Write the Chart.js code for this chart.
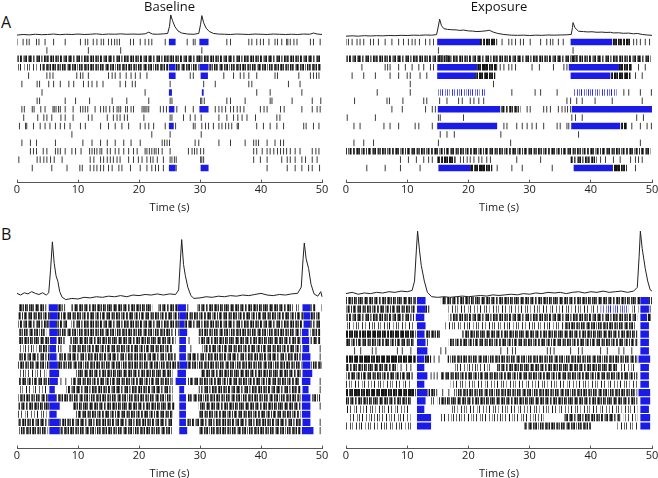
<!DOCTYPE html>
<html lang="en">
<head>
<meta charset="UTF-8">
<title>Baseline / Exposure raster</title>
<script src="https://cdn.jsdelivr.net/npm/chart.js"></script>
<style>
  html, body { margin: 0; padding: 0; overflow: hidden; background: #fff; }
  body { width: 658px; height: 478px; position: relative; font-family: "Open Sans", sans-serif; }
  .panel { position: absolute; }
  .tag { position: absolute; font-size: 16px; line-height: 16px; color: #111; }
</style>
</head>
<body>
<div class="tag" style="left:1px;top:14px">A</div>
<div class="tag" style="left:1px;top:226px">B</div>
<canvas class="panel" id="aBase" width="333" height="216" style="left:3px;top:0px"></canvas>
<canvas class="panel" id="aExp" width="334" height="216" style="left:332px;top:0px"></canvas>
<canvas class="panel" id="bBase" width="333" height="260" style="left:3px;top:222px"></canvas>
<canvas class="panel" id="bExp" width="334" height="260" style="left:332px;top:222px"></canvas>
<script>
// ---------- population traces: [time s, normalised activity] ----------
const traceABase = [[0,0.02],[1,0.05],[2,0.03],[3,0.06],[4,0.04],[5,0.05],[6,0.07],[7,0.04],[8,0.06],[9,0.05],
  [10,0.07],[11,0.05],[12,0.06],[13,0.08],[14,0.05],[15,0.07],[16,0.06],[17,0.08],[18,0.06],[19,0.07],[20,0.06],
  [21,0.08],[21.6,0.16],[22.2,0.07],[23,0.06],[24,0.08],[24.7,0.1],[25.0,0.45],[25.2,1.0],[25.5,0.72],[25.9,0.42],
  [26.4,0.22],[27,0.12],[28,0.07],[29,0.06],[29.8,0.1],[30.1,0.55],[30.3,0.97],[30.6,0.62],[31.0,0.36],[31.5,0.2],
  [32.2,0.1],[33,0.07],[34,0.06],[35,0.05],[36,0.07],[37,0.06],[38,0.05],[39,0.07],[40,0.06],[41,0.05],[42,0.07],
  [43,0.06],[44,0.05],[45,0.06],[46,0.05],[47,0.07],[48,0.06],[48.6,0.12],[49.2,0.07],[50,0.05]];
const traceAExp = [[0,0.0],[1,0.02],[2,0.0],[3,0.03],[4,0.01],[5,0.03],[6,0.02],[7,0.04],[8,0.03],[9,0.05],[10,0.04],
  [11,0.06],[12,0.05],[13,0.07],[14,0.06],[14.8,0.09],[15.1,0.6],[15.3,1.0],[15.6,0.62],[16.0,0.44],[16.6,0.4],
  [17.2,0.38],[18,0.37],[18.6,0.34],[19.2,0.36],[20,0.31],[20.7,0.3],[21.4,0.27],[22.2,0.29],[23.0,0.32],[23.4,0.35],
  [24,0.25],[24.8,0.16],[25.8,0.1],[27,0.06],[28,0.05],[29,0.06],[30,0.04],[31,0.06],[32,0.05],[33,0.07],[34,0.06],
  [35,0.07],[36,0.08],[36.8,0.1],[37.0,0.5],[37.1,0.8],[37.4,0.5],[38.0,0.29],[38.8,0.27],[39.5,0.25],[40.2,0.26],
  [41,0.23],[41.8,0.24],[42.5,0.22],[43.2,0.23],[43.7,0.19],[44.5,0.2],[45.3,0.17],[46.2,0.18],[47,0.14],[47.6,0.16],
  [48.4,0.1],[49.2,0.07],[50,0.05]];
const traceBBase = [[0,0.09],[0.6,0.06],[1.2,0.1],[1.8,0.08],[2.4,0.12],[3,0.09],[3.6,0.07],[4.2,0.1],[4.8,0.06],
  [5.2,0.1],[5.5,0.5],[5.8,1.0],[6.1,0.62],[6.4,0.4],[6.7,0.3],[7.0,0.12],[7.4,0.02],[8,-0.02],[9,0.0],[10,-0.01],
  [11,0.02],[12,0.01],[13,0.03],[14,0.02],[15,0.04],[16,0.03],[17,0.05],[18,0.03],[19,0.06],[20,0.05],[21,0.07],
  [22,0.06],[23,0.08],[24,0.06],[25,0.08],[26,0.07],[26.5,0.15],[26.8,0.7],[27.0,1.04],[27.3,0.6],[27.6,0.4],
  [28.0,0.2],[28.5,0.05],[29,0.0],[30,0.01],[31,0.03],[32,0.02],[33,0.04],[34,0.03],[35,0.05],[36,0.04],[37,0.06],
  [38,0.05],[39,0.07],[40,0.09],[41,0.06],[42,0.05],[43,0.07],[44,0.06],[45,0.08],[46,0.09],[46.6,0.2],[46.9,0.7],
  [47.1,0.98],[47.4,0.7],[47.8,0.53],[48.2,0.25],[48.7,0.08],[49.3,0.04],[49.8,0.12],[50,0.03]];
const traceBExp = [[0,0.0],[1,0.02],[2,-0.01],[3,0.01],[4,0.0],[5,0.02],[6,0.01],[7,0.03],[8,0.02],[9,0.04],[10,0.03],
  [10.8,0.05],[11.2,0.2],[11.5,0.7],[11.7,1.0],[12.0,0.7],[12.3,0.45],[12.8,0.2],[13.3,0.02],[14,-0.05],[15,-0.06],
  [16,-0.05],[17,-0.06],[18,-0.05],[19,-0.04],[20,-0.05],[21,-0.04],[22,-0.03],[23,-0.04],[24,-0.02],[25,-0.03],
  [26,-0.02],[27,-0.01],[28,-0.02],[29,0.0],[30,-0.01],[31,0.01],[32,0.0],[33,0.02],[34,0.01],[35,0.02],[36,0.0],
  [37,0.02],[38,0.03],[39,0.01],[40,0.03],[41,0.02],[42,0.04],[43,0.02],[44,0.03],[45,0.04],[46,0.02],[47,0.04],
  [47.6,0.1],[47.9,0.6],[48.1,1.0],[48.4,0.72],[48.9,0.4],[49.3,0.2],[49.7,0.06],[50,0.04]];

// ---------- single spikes, one list per neuron (rows 1..16, top to bottom) ----------
const spikesABase = [
  [0.0,1.0,1.6,2.0,3.2,3.6,4.6,6.0,7.9,10.4,11.2,11.6,12.5,13.1,13.8,14.2,15.0,15.5,16.0,16.4,16.8,18.6,19.1,20.2,21.0,21.6,22.1,24.3,27.9,28.9,29.2,34.4,35.0,38.0,38.5,39.3,39.9,40.4,41.3,42.3,42.7,43.4,44.2,44.4,44.8,45.4,45.9,48.1,48.6,49.7],
  [4.9,11.7,17.0,30.3],
  [24.9,25.3,30.0,30.2],
  [],
  [1.9,4.9,5.4,5.9,9.8,10.4,10.8,11.7,15.0,15.6,16.1,16.9,17.9,18.7,19.4,20.2,21.3,28.4,28.9,33.9,35.5,36.6,37.2,38.0,39.3,42.3,42.7,46.2,48.1,48.6,49.1,49.5],
  [0.8,3.3,3.7,5.2,6.0,7.1,8.5,9.3,10.9,11.7,12.3,13.1,14.1,16.9,17.8,18.9,19.4,25.1,30.6,32.5,38.0,38.5,44.5,46.4],
  [4.1,21.0,39.3,41.5,46.7],
  [3.3,3.7,7.9,9.6,11.9,15.6,18.0,21.6,25.1,25.4,30.1,30.3,30.7,34.4,35.0,37.4,41.5,41.8,45.1,48.4,49.8],
  [0.8,1.2,2.5,2.8,3.9,4.6,5.9,6.1,6.4,6.8,7.1,7.9,9.2,10.4,10.8,11.2,11.6,12.8,13.7,14.2,14.6,15.2,15.8,16.4,16.7,17.0,17.8,18.1,18.7,19.1,20.5,20.8,21.0,21.3,21.6,23.5,24.0,24.5,26.2,27.6,28.9,32.5,33.1,33.6,34.2,35.0,35.5,36.1,36.6,37.2,39.9,40.5,41.0,43.2,43.8,46.7,48.4,49.2,49.7],
  [1.1,3.4,4.4,4.9,5.7,7.2,7.9,9.2,11.7,12.3,14.8,15.8,16.4,16.9,17.6,18.1,20.8,25.1,25.4,27.3,28.4,29.2,30.2,33.1,34.4,35.5,36.2,36.9,37.7,39.1,42.6,43.1],
  [0.4,1.4,1.6,2.7,3.8,4.6,5.4,6.3,7.1,7.8,8.7,10.4,11.2,13.7,15.0,16.1,17.2,18.3,20.2,21.0,21.6,22.4,24.3,26.0,28.9,29.2,30.3,30.9,31.4,32.2,33.1,33.6,34.2,34.7,35.2,36.1,36.3,39.3,40.4,41.5,42.6,43.7,47.0,47.4,48.6,49.5],
  [9.0,22.1,25.1,30.2],
  [0.8,2.2,3.2,6.3,10.8,12.3,13.7,14.8,16.1,17.5,18.7,20.2,23.8,24.2,24.6,25.0,29.2,29.8,33.1,35.0,37.4,38.8,39.2,39.6,41.0,42.3,43.2,43.7],
  [2.2,2.7,3.2,4.3,4.9,6.3,6.7,7.1,7.9,9.0,9.6,10.5,11.9,12.3,12.7,13.1,13.6,13.9,14.8,15.3,16.1,16.7,17.5,18.3,19.1,19.7,21.0,21.3,21.7,22.1,22.5,22.8,23.2,23.8,25.1,28.1,28.7,29.1,29.5,30.1,30.6,38.8,39.3,40.2,41.0,41.5,42.1,42.7,43.2,43.7,44.2,44.8,45.6,46.4,48.4,49.0,49.5],
  [0.3,3.3,3.8,4.4,4.9,5.5,6.1,7.4,12.0,12.6,13.7,14.2,14.8,15.3,15.8,16.4,16.9,18.3,19.1,19.9,20.5,21.3,21.9,22.3,23.0,24.0,25.1,25.4,25.8,26.1,30.1,30.3,30.6,38.8,39.9,41.0,43.4,44.3,44.8,45.6,46.7,47.3,48.4,49.2],
  [2.5,5.7,8.2,10.3,10.7,12.0,12.6,13.1,13.7,14.2,15.0,15.6,16.7,17.2,18.6,20.2,21.3,22.1,22.7,23.2,24.0,26.1,41.0,44.3,45.6,46.7,47.8,48.4,49.6]
];
const spikesAExp = [
  [0,0.4,1.0,1.8,2.3,2.9,4.0,4.5,5.3,6.4,7.5,8.6,9.4,10.2,10.8,11.3,12.0,13.0,13.7,14.3,25.5,26.6,27.1,27.7,28.5,29.0,30.1,31.8,32.8,33.4,33.8,34.7,35.5,47.0,47.5,48.1,48.9,49.6],
  [15.1,37.1],
  [15.2,15.6,36.9,37.3],
  [2.6,6.4,6.8,7.2,8.6,9.7,10.8,11.9,12.7,13.8,14.3,25.2,25.8,26.6,27.1,27.7,30.4,31.6,33.9,35.6,36.1,47.8,48.9],
  [1.0,2.9,4.8,7.2,8.6,10.0,10.5,12.1,13.2,47.3,48.4],
  [10.5,24.1],
  [5.1,10.5,27.1,30.9,31.8,34.5,45.4,46.2,48.1,49.9],
  [1.4,6.7,7.1,9.3,12.7,13.2,15.3,16.5,18.4,19.0,20.3,20.9,21.7,22.5,36.1,36.7,37.7,38.6,40.7,43.5,48.4],
  [7.5,9.2,13.0,14.1,14.6,29.6,30.1,32.3,32.8,33.4,34.7,35.3,35.8,36.2,36.7],
  [0.2,4.8,15.1,15.4,19.2,36.9,37.5,38.6,47.5,48.6],
  [1.3,2.3,6.2,7.2,8.6,11.3,11.9,14.1,25.8,26.3,27.9,28.8,29.6,30.4,31.1,32.3,34.5,35.0,36.1,36.4,46.7,48.1,49.2,49.9],
  [15.4,16.5,17.7,25.3,38.0],
  [1.3,2.9,4.5,15.1,26.9,48.1],
  [],
  [8.9,10.2,11.5,12.7,13.5,14.1,18.7,19.2,19.8,20.3,20.9,21.7,22.2,23.0,23.6,27.9,31.8,41.6,42.4,43.7,44.8,46.5,47.3,47.8,48.4],
  [3.4,6.4,8.9,12.1,24.7,27.1,28.8,33.7,47.3]
];
const spikesBBase = [[7.8,28.0,50.0],[],[],[],[28.2],[6.8,7.2,28.5,49.7],[49.7],[],[],[7.2,8.0,49.7],[49.7],[],[49.7],[],[49.7],[49.7]];
const spikesBExp = [[],[49.7],[],[],[],[13.3],
  [1.4,2.4,4.3,4.9,8.4,9.2,10.6,15.5,16.3,25.3,26.4,27.2,27.7,32.9,33.4,34.0,36.7,38.0,38.6,41.6,42.7,44.6,45.4,46.7],
  [14.4,15.2],[9.0,9.9,10.6],[13.9,14.4,14.9],[],[15.8,16.8],[],[],[],[]];

// ---------- firing stretches: [row, start s, end s] ----------
const burstABase = [[1,24.9,26.0],[1,29.9,31.4],[4,24.9,26.0],[4,29.9,31.4],[5,24.9,26.0],[5,30.1,31.3],[7,24.9,25.4],
  [7,30.3,30.6],[9,24.9,25.8],[9,29.9,31.4],[11,24.9,25.7],[16,24.9,26.0],[16,30.1,31.4]];
const denseABase = [[3,0,49.8],[4,4.1,24.8],[4,26.0,29.8],[4,31.4,49.8]];
const sparseABase = [[4,0,4.1]];

const burstAExp = [[1,14.9,21.9],[1,36.7,43.5],[4,14.9,21.4],[4,36.4,44.6],[5,14.9,21.1],[5,36.7,43.2],[9,15.0,25.2],
  [9,36.9,50],[11,14.9,24.7],[11,36.8,44.8],[16,15.1,20.3],[16,37.2,43.5]];
const faintBurstAExp = [[7,15.1,22.8],[7,37.1,44.3]];
const darkAExp = [[1,21.9,24.7],[1,43.5,46.5],[3,15.0,17.0],[3,36.8,38.0],[4,21.4,24.7],[4,44.6,46.7],[5,21.1,24.4],
  [5,43.2,46.5],[11,44.8,45.9],[15,14.9,17.9],[16,20.3,23.9],[16,43.5,45.9]];
const denseAExp = [[3,0,49.8],[9,25.2,28.5],[14,0,49.8],[15,36.7,41.0]];

const burstBBase = [[1,5.2,6.7],[1,26.3,27.7],[1,46.8,48.1],[2,5.4,6.7],[2,26.6,27.7],[2,47.0,48.1],
  [3,5.3,6.4],[3,26.6,27.4],[3,47.0,48.1],[4,5.3,6.7],[4,26.6,27.9],[4,46.7,47.8],[5,5.4,6.5],[5,26.6,27.7],[5,46.7,47.9],
  [6,5.3,6.4],[6,26.6,27.7],[6,46.8,47.9],[7,5.3,6.5],[7,26.6,27.7],[7,46.7,48.1],[8,5.3,6.7],[8,26.6,27.9],[8,46.8,48.1],
  [9,5.3,6.9],[9,26.3,27.7],[9,46.8,48.4],[10,5.3,6.7],[10,26.0,27.7],[10,46.7,48.1],[11,5.3,6.2],[11,26.6,27.4],[11,46.8,47.8],
  [12,5.1,6.4],[12,26.6,27.7],[12,46.7,48.1],[13,5.3,7.0],[13,26.6,27.7],[13,46.7,48.1],[14,5.3,6.5],[14,26.6,27.7],[14,46.7,48.1],
  [15,5.3,7.0],[15,26.6,27.7],[15,46.8,48.1],[16,5.3,7.0],[16,26.6,27.9],[16,46.7,48.6]];
const denseBBase = [[1,0.2,4.8],[1,6.7,7.5],[1,8.9,22.2],[1,23.2,26.3],[1,29.6,45.1],[1,48.1,48.9],
  [2,0.2,5.4],[2,6.7,26.6],[2,27.7,47.0],[2,48.1,49.8],[3,0.2,5.3],[3,6.4,8.3],[3,8.9,26.6],[3,27.4,47.0],[3,48.1,49.8],
  [4,0.2,4.8],[4,6.7,25.5],[4,29.8,46.5],[4,48.1,49.7],[5,0.2,5.4],[5,6.5,7.8],[5,8.7,26.0],[5,29.8,46.5],[5,48.1,49.7],
  [6,3.6,5.3],[6,8.6,25.5],[6,30.4,46.5],[7,0.2,5.3],[7,6.7,26.0],[7,27.9,46.5],
  [8,0.2,5.3],[8,6.7,26.6],[8,27.9,46.8],[8,48.1,50],[9,9.7,25.5],[9,30.1,46.5],
  [10,0.2,5.3],[10,8.9,25.5],[10,27.9,46.2],[11,8.1,25.5],[11,29.8,46.5],
  [12,0.2,5.1],[12,6.4,25.5],[12,27.9,46.5],[12,48.4,49.7],[13,0.2,5.3],[13,9.2,25.8],[13,29.8,46.5],
  [14,9.7,25.5],[14,29.8,46.5],[15,0.2,5.3],[15,7.0,25.5],[15,27.9,46.7],[16,0.2,5.1],[16,7.0,25.5],[16,29.8,46.5]];
const sparseBBase = [[1,45.1,46.7],[4,4.8,5.3],[4,25.5,26.6],[6,0.2,3.2],[9,0.2,4.8],[11,0.2,3.2],[11,3.6,4.8],[14,0.2,5.1]];

const burstBExp = [[1,11.6,13.0],[1,48.1,49.5],[2,11.6,13.0],[2,48.1,49.5],[3,11.4,12.8],[3,48.1,49.2],
  [4,11.6,13.0],[4,48.1,49.5],[5,11.6,12.8],[5,48.1,49.5],[6,11.6,13.0],[6,48.1,49.5],[7,11.6,13.3],[7,48.1,49.5],
  [8,11.6,12.8],[8,47.8,49.7],[9,11.6,12.8],[9,48.1,49.5],[10,11.6,13.3],[10,48.1,49.5],[11,11.6,12.8],[11,48.1,49.5],
  [12,11.6,13.3],[12,47.8,49.7],[13,11.6,13.0],[13,48.1,49.7],[14,11.6,12.8],[14,48.1,49.5],[15,11.6,13.9],[15,48.1,49.7],
  [16,11.6,13.9],[16,48.1,49.7]];
const faintBurstBExp = [[2,41.8,45.9]];
const denseBExp = [[1,0,11.4],[1,15.5,48.1],[2,0,11.4],[3,0,11.1],[3,16.8,47.6],[4,35.6,47.3],[5,12.8,15.5],[5,19.0,47.6],
  [6,0,11.1],[6,16.8,47.6],[8,16.6,47.6],[9,0,8.4],[9,24.7,44.3],[10,0,10.9],[10,15.5,47.6],[12,13.3,14.9],[12,17.7,47.6],
  [13,0,10.6],[13,15.2,47.6],[15,35.6,44.8],[16,29.1,40.0]];
const darkBExp = [[1,49.5,50],[2,13.0,13.6],[3,49.2,49.8],[5,0,11.4],[8,0,11.4],[8,12.8,13.9],[12,0,11.4]];
const sparseBExp = [[2,16.6,41.6],[2,46.2,47.8],[4,0,11.1],[4,16.0,35.6],[9,17.7,23.6],[9,44.8,47.3],[11,0,10.6],
  [11,17.1,47.6],[13,13.6,14.9],[14,0,10.6],[14,17.1,47.6],[15,0.5,10.6],[15,15.5,32.3],[15,45.4,47.6],[16,0,11.1],[16,44.3,47.6]];

const timeTicks = [0, 10, 20, 30, 40, 50];

// ---------- textures for packed spike trains (digit = darkness, '.' = blank) ----------
const stripeSets = {
  dense: ['8649.7958.6847.9586.4796.8579.6.9486.7', '7958.69748.967.85967.4986.7958.6794.85.',
          '96.5879.4867.9758.6495.87.6978.5496.8.7', '5879.64.97586.7949.6857.98.4679.5896.74.'],
  dark:  ['9899.9789.9979.8999.7989.99', '89.9979.9989.7999.9889.9798.'],
  sparse: ['6..8.5..7...9..4.6..8...5.7..9...6..4.8..', '..7.5...8..6.9...4..7.6...8..5...9..6.7.',
           '5..9...6.7..4...8..6.5...9..7...4.8...6..'],
  faint: ['5.7..4.8.6..5.7.9..4.6.8..5.7.', '.6.8..5.7.4..8.6..7.5.9..6.4.8']
};
function makePattern(str, blue) {
  const c = document.createElement('canvas');
  c.width = str.length; c.height = 4;
  const g = c.getContext('2d');
  for (let i = 0; i < str.length; i++) {
    if (str[i] === '.') continue;
    const v = Math.round(255 - (+str[i]) * 26);
    g.fillStyle = blue ? `rgb(${v},${v},235)` : `rgb(${v},${v},${v})`;
    g.fillRect(i, 0, 1, 4);
  }
  return g.createPattern(c, 'repeat');
}
const patternCache = {};
function rowPattern(kind, r) {
  const key = kind + '_' + r;
  if (!patternCache[key]) {
    const set = stripeSets[kind];
    const str = set[r % set.length];
    const p = makePattern(str, kind === 'faint');
    p.setTransform(new DOMMatrix().translate((r * 11) % str.length, 0));
    patternCache[key] = p;
  }
  return patternCache[key];
}
const BLUE = '#1b1be8';

function rowY(r) { return 17 - r; }

function stretchDataset(list, kind, width) {
  const data = [];
  list.forEach(([r, s, e]) => { data.push({x: s, y: rowY(r)}, {x: e, y: rowY(r)}, {x: e, y: null}); });
  const pick = idx => rowPattern(kind, list[Math.floor(idx / 3)][0]);
  return {
    data, borderWidth: width, borderCapStyle: 'butt', pointRadius: 0, spanGaps: false, tension: 0,
    borderColor: kind === 'blue' ? BLUE : rowPattern(kind, 0),
    segment: kind === 'blue' ? {} : { borderColor: c => pick(c.p0DataIndex) }
  };
}

function buildPanel(id, g, parts) {
  const yMin = 16 - (g.bottom - g.row1) / g.gap;
  const yMax = 16 + (g.row1 - g.top) / g.gap;
  const datasets = [];
  (parts.sparse || []).length && datasets.push(stretchDataset(parts.sparse, 'sparse', g.bar));
  (parts.dense || []).length && datasets.push(stretchDataset(parts.dense, 'dense', g.bar));
  (parts.dark || []).length && datasets.push(stretchDataset(parts.dark, 'dark', g.bar));
  const pts = [];
  parts.spikes.forEach((row, i) => row.forEach(t => pts.push({x: t, y: rowY(i + 1)})));
  datasets.push({
    data: pts, showLine: false, pointStyle: 'line', pointRotation: 90, pointRadius: g.bar / 2,
    pointBorderWidth: 1, pointBorderColor: '#3a3a3a', pointBackgroundColor: '#3a3a3a'
  });
  (parts.faint || []).length && datasets.push(stretchDataset(parts.faint, 'faint', g.bar));
  datasets.push(stretchDataset(parts.burst, 'blue', g.bar));
  const off = 16 + (g.row1 - g.base) / g.gap;
  datasets.push({
    data: parts.trace.map(([t, v]) => ({x: t, y: off + v * g.peak / g.gap})),
    borderColor: '#222', borderWidth: 1, pointRadius: 0, tension: 0, clip: false
  });

  new Chart(document.getElementById(id), {
    type: 'line',
    data: { datasets },
    options: {
      responsive: false, animation: false, events: [],
      layout: { padding: { left: 14, right: 14, top: g.padTop, bottom: 0 } },
      plugins: {
        legend: { display: false }, tooltip: { enabled: false },
        title: parts.title ? {
          display: true, text: parts.title, padding: { top: 0, bottom: 0 }, color: '#111',
          font: { family: 'Open Sans', size: 13, weight: 'normal', lineHeight: 1.1 }
        } : { display: false }
      },
      scales: {
        x: {
          type: 'linear', min: 0, max: 50,
          afterBuildTicks: ax => { ax.ticks = timeTicks.map(v => ({ value: v })); },
          ticks: { padding: 4, color: '#222', font: { family: 'Open Sans', size: 11 } },
          grid: { drawOnChartArea: false, drawTicks: true, tickLength: -3, color: '#555' },
          border: { display: true, color: '#555', width: 1 },
          title: { display: true, text: 'Time (s)', padding: { top: 0, bottom: 2 }, color: '#222',
                   font: { family: 'Open Sans', size: 11 } }
        },
        y: { type: 'linear', display: false, min: yMin, max: yMax }
      }
    }
  });
}

buildPanel('aBase', { row1: 42.7, gap: 8.6, top: 14.3, bottom: 186.6, base: 36, peak: 21, bar: 6.5, padTop: 0 },
  { title: 'Baseline', trace: traceABase, spikes: spikesABase, burst: burstABase, dense: denseABase, sparse: sparseABase });
buildPanel('aExp', { row1: 42.7, gap: 8.6, top: 14.3, bottom: 186.6, base: 36.7, peak: 17.4, bar: 6.5, padTop: 0 },
  { title: 'Exposure', trace: traceAExp, spikes: spikesAExp, burst: burstAExp, faint: faintBurstAExp, dense: denseAExp, dark: darkAExp });
buildPanel('bBase', { row1: 307.3 - 222, gap: 8.45, top: 2, bottom: 452.6 - 222, base: 297.7 - 222, peak: 58.4, bar: 7.2, padTop: 2 },
  { trace: traceBBase, spikes: spikesBBase, burst: burstBBase, dense: denseBBase, sparse: sparseBBase });
buildPanel('bExp', { row1: 300 - 222, gap: 8.62, top: 2, bottom: 452.6 - 222, base: 292.7 - 222, peak: 64.4, bar: 7.2, padTop: 2 },
  { trace: traceBExp, spikes: spikesBExp, burst: burstBExp, faint: faintBurstBExp, dense: denseBExp, dark: darkBExp, sparse: sparseBExp });
</script>
</body>
</html>
